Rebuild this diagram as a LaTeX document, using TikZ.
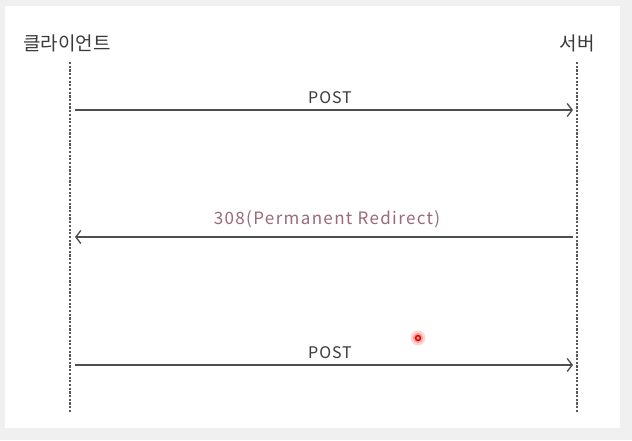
\documentclass[tikz,border=0pt]{standalone}
\usepackage{fontspec}
\setmainfont{Noto Sans CJK KR}
\usepackage{xcolor}
\usetikzlibrary{arrows.meta}
\definecolor{ink}{HTML}{3A3A3A}
\definecolor{redir}{HTML}{9A6A78}
\definecolor{pagebg}{HTML}{F0F0F0}

\begin{document}
\begin{tikzpicture}[x=1pt,y=-1pt,>={Straight Barb[length=5pt,width=13pt]},font=\fontsize{16}{19}\selectfont\addfontfeatures{LetterSpace=6},text=ink,
  lifeline/.style={draw=ink!85,line width=1.1pt,dash pattern=on 2.2pt off 1.5pt},
  msg/.style={draw=ink!90,line width=1.3pt,->}]
  \fill[pagebg] (0,0) rectangle (632,440);
  \fill[white] (5,6) rectangle (620,428);
  \node[font=\fontsize{19}{22}\selectfont] (client) at (67,43) {클라이언트};
  \node[font=\fontsize{19}{22}\selectfont] (server) at (577,43) {서버};
  \coordinate (ctop) at (70,62);
  \coordinate (cbot) at (70,413);
  \coordinate (stop) at (577,62);
  \coordinate (sbot) at (577,413);
  \draw[lifeline] (ctop)--(cbot);
  \draw[lifeline] (stop)--(sbot);
  \coordinate (c1) at (75,110);
  \coordinate (s1) at (573,110);
  \coordinate (c2) at (75,237);
  \coordinate (s2) at (573,237);
  \coordinate (c3) at (75,365);
  \coordinate (s3) at (573,365);
  \draw[msg] (c1)--node[above=2pt,xshift=6pt]{POST}(s1);
  \draw[msg] (s2)--node[above=5pt,xshift=3pt,text=redir,font=\fontsize{17}{20}\selectfont\addfontfeatures{LetterSpace=8}]{308(Permanent Redirect)}(c2);
  \draw[msg] (c3)--node[above=2pt,xshift=6pt]{POST}(s3);
  % pointer mark
  \fill[red!20,opacity=0.8] (418,338) circle (7.5pt);
  \fill[red!45,opacity=0.8] (418,338) circle (5pt);
  \draw[red!85!black,line width=1.4pt] (418,338) circle (2.4pt);
\end{tikzpicture}
\end{document}
